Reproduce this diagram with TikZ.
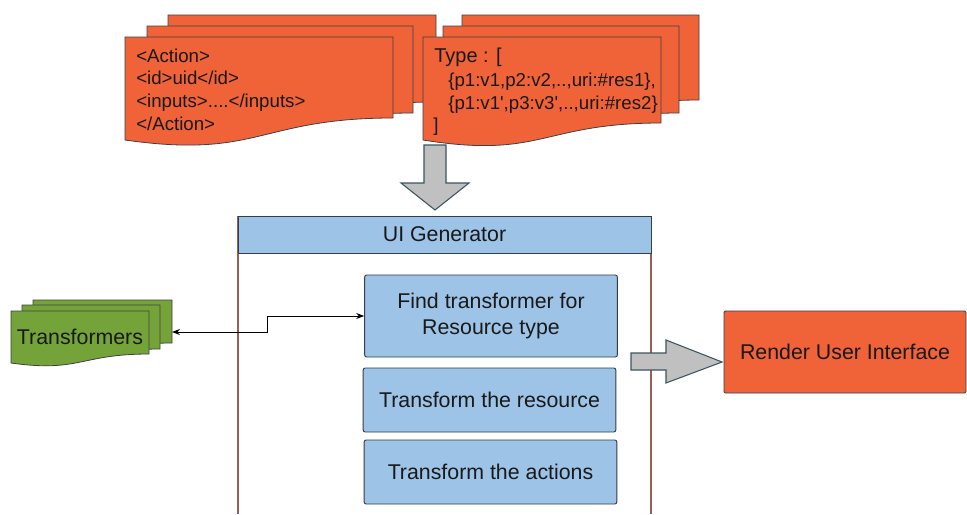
\documentclass[tikz,border=0pt]{standalone}
\usepackage{fontspec}
\setmainfont{Liberation Sans}
\usetikzlibrary{arrows.meta}

\definecolor{docorange}{RGB}{240,98,55}
\definecolor{stepblue}{RGB}{157,195,230}
\definecolor{leafgreen}{RGB}{116,163,58}
\definecolor{arrowgray}{RGB}{192,192,192}
\definecolor{arrowedge}{RGB}{62,84,96}
\definecolor{boxedge}{RGB}{52,62,74}
\definecolor{framebrown}{RGB}{150,96,86}

% one page of a document stack with a wavy lower edge
% #1 fill, #2 left x, #3 top y, #4 right x, #5 lower y at right, #6 lower y at left
\newcommand{\docpage}[6]{%
  \filldraw[pageline, fill=#1] (#2,#3) -- (#4,#3) -- (#4,#5)
    .. controls ({(#2+#4)/2},#5) and ({(#2+#4)/2},{#6+0.186*(#6-#3)}) .. (#2,#6) -- cycle;}

\tikzset{
  pageline/.style={draw=black!75, line width=0.6pt},
  doctext/.style={anchor=base west, inner sep=0pt, text=black!90,
    font=\fontsize{14pt}{17pt}\selectfont},
  stepbox/.style={draw=boxedge, line width=0.7pt, fill=stepblue,
    rounded corners=1.5pt, inner sep=0pt, align=center, text=black!90,
    minimum width=189.5pt, font=\fontsize{16pt}{20pt}\selectfont},
  headbar/.style={draw=boxedge, line width=0.7pt, fill=stepblue,
    inner sep=0pt, text=black!90, font=\fontsize{16pt}{20pt}\selectfont,
    minimum width=309.75pt, minimum height=27.75pt},
  renderbox/.style={draw=boxedge, line width=0.7pt, fill=docorange,
    rounded corners=1pt, inner sep=0pt, text=black!90,
    minimum width=181.5pt, minimum height=61.5pt,
    font=\fontsize{16pt}{20pt}\selectfont},
  bigarrow/.style={draw=arrowedge, line width=0.8pt, fill=arrowgray, line join=miter},
  frameline/.style={draw=framebrown, line width=0.8pt},
  conn/.style={draw=black, line width=0.7pt,
    {Stealth[length=6pt,width=4.5pt]}-{Stealth[length=6pt,width=4.5pt]}},
}

\begin{document}
\begin{tikzpicture}[x=0.75pt,y=-0.75pt]
\useasboundingbox[fill=white] (0,0) rectangle (967,514);

% action descriptions
\docpage{docorange}{168}{15}{436}{102}{122}
\docpage{docorange}{147}{26}{413}{113}{133}
\docpage{docorange}{125}{37}{393}{118}{140}
\node[doctext] (act1) at (136,62) {<Action>};
\node[doctext] (act2) at (136,84.5) {<id>uid</id>};
\node[doctext] (act3) at (136,107) {<inputs>....</inputs>};
\node[doctext] (act4) at (136,130) {</Action>};

% typed resources
\docpage{docorange}{462}{15}{699}{100}{120}
\docpage{docorange}{443}{26}{679}{113}{133}
\docpage{docorange}{423}{37}{661}{123}{140}
\node[doctext, font=\fontsize{15pt}{18pt}\selectfont] (res1) at (434,62) {Type : [};
\node[doctext] (res2) at (448,86) {\{p1:v1,p2:v2,..,uri:\#res1\},};
\node[doctext] (res3) at (448,109) {\{p1:v1\textquotesingle,p3:v3\textquotesingle,..,uri:\#res2\}};
\node[doctext] (res4) at (433,131) {]};

% input arrow
\draw[bigarrow] (424,145) -- (446,145) -- (446,183) -- (469,183) -- (435,210)
  -- (401,183) -- (424,183) -- cycle;

% generator frame
\draw[frameline] (238,216) -- (238,514);
\draw[frameline] (651,216) -- (651,514);
\node[headbar] (uigen) at (444.5,234.5) {UI Generator};

\node[stepbox, minimum height=61.5pt] (find) at (491,316)
  {Find transformer for\\Resource type};
\node[stepbox, minimum height=48pt] (tres) at (489.5,400) {Transform the resource};
\node[stepbox, minimum height=48pt] (tact) at (490.5,472) {Transform the actions};

% transformer stack
\docpage{leafgreen}{33}{300}{172}{343}{352}
\docpage{leafgreen}{22}{305}{160}{349}{358}
\docpage{leafgreen}{11}{311}{149}{354}{363}
\node[inner sep=0pt, text=black!90, font=\fontsize{16pt}{20pt}\selectfont]
  (trans) at (80,337) {Transformers};
\coordinate (transedge) at (172,332);
\draw[conn] (transedge) -- ++(95,0) |- (find.west);

% output arrow
\draw[bigarrow] (631,353) -- (666,353) -- (666,340) -- (722,362) -- (666,383)
  -- (666,370) -- (631,370) -- cycle;

\node[renderbox] (render) at (845,352) {Render User Interface};
\end{tikzpicture}
\end{document}
